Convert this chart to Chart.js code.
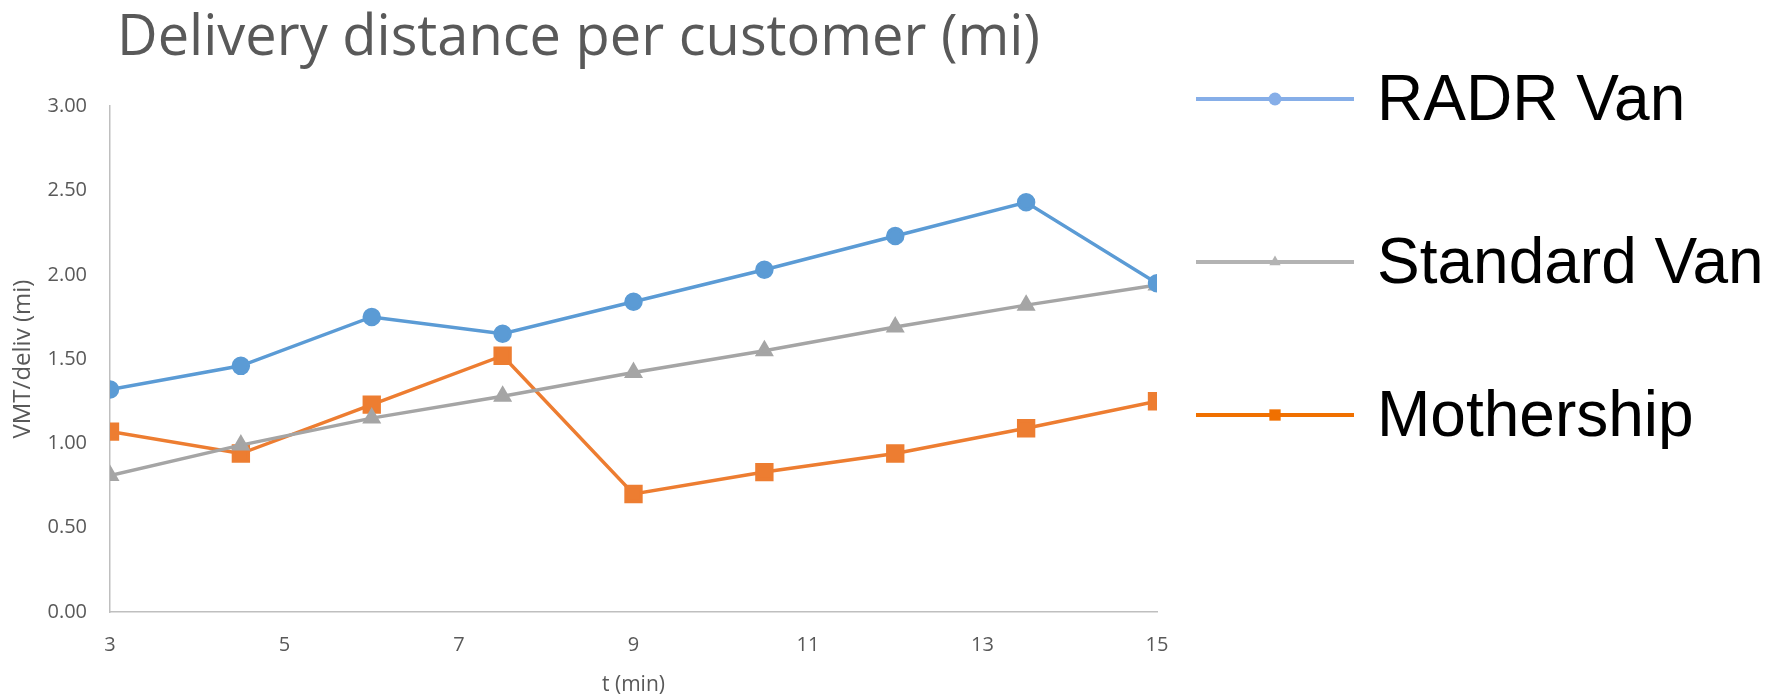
<!DOCTYPE html>
<html>
<head>
<meta charset="utf-8">
<script src="https://cdn.jsdelivr.net/npm/chart.js@4/dist/chart.umd.min.js"></script>
<style>
  html, body { margin: 0; padding: 0; background: #fff; }
  #wrap { width: 1781px; height: 696px; }
</style>
</head>
<body>
<div id="wrap"><canvas id="chart" width="1781" height="696"></canvas></div>
<script>
const tMinutes = [3, 4.5, 6, 7.5, 9, 10.5, 12, 13.5, 15];
const radrVan = [1.32, 1.46, 1.75, 1.65, 1.84, 2.03, 2.23, 2.43, 1.95];
const standardVan = [0.81, 0.99, 1.15, 1.28, 1.42, 1.55, 1.69, 1.82, 1.94];
const mothership = [1.07, 0.94, 1.23, 1.52, 0.70, 0.83, 0.94, 1.09, 1.25];
const seriesNames = ["RADR Van", "Standard Van", "Mothership"];

const toPoints = vals => vals.map((v, i) => ({ x: tMinutes[i], y: v }));

// legend is drawn by hand on the right, with its own (lighter) colours
const legendColors = ["#86aee8", "#b3b3b3", "#f07000"];
const legendRows = [99, 262, 415];

const sideLegend = {
  id: "sideLegend",
  afterDraw(chart) {
    const ctx = chart.ctx;
    ctx.save();
    chart.data.datasets.forEach((ds, i) => {
      const y = legendRows[i];
      ctx.strokeStyle = legendColors[i];
      ctx.fillStyle = legendColors[i];
      ctx.lineWidth = 4;
      ctx.beginPath();
      ctx.moveTo(1196, y);
      ctx.lineTo(1354, y);
      ctx.stroke();
      Chart.helpers.drawPoint(ctx, {
        pointStyle: ds.pointStyle,
        radius: ds.pointStyle === "rect" ? 8 : 6.5,
        rotation: 0,
        borderWidth: 0
      }, 1275, y);
      ctx.fillStyle = "#000";
      ctx.font = '64px "Liberation Sans", Arial, sans-serif';
      ctx.textBaseline = "middle";
      ctx.textAlign = "left";
      ctx.fillText(ds.label, 1377, y + 3);
    });
    ctx.restore();
  }
};

const grayText = "#595959";
const axisLine = "#bfbfbf";

new Chart(document.getElementById("chart"), {
  type: "line",
  data: {
    datasets: [
      {
        label: seriesNames[0],
        data: toPoints(radrVan),
        borderColor: "#5b9bd5",
        backgroundColor: "#5b9bd5",
        pointStyle: "circle",
        pointRadius: 7.5,
        borderWidth: 3.5
      },
      {
        label: seriesNames[1],
        data: toPoints(standardVan),
        borderColor: "#a5a5a5",
        backgroundColor: "#a5a5a5",
        pointStyle: "triangle",
        pointRadius: 7.5,
        borderWidth: 3.5
      },
      {
        label: seriesNames[2],
        data: toPoints(mothership),
        borderColor: "#ed7d31",
        backgroundColor: "#ed7d31",
        pointStyle: "rect",
        pointRadius: 10.5,
        borderWidth: 3.5
      }
    ]
  },
  options: {
    responsive: false,
    animation: false,
    events: [],
    layout: { padding: { left: 0, right: 624, top: 0, bottom: 0 } },
    elements: { point: { borderWidth: 0 }, line: { tension: 0 } },
    plugins: {
      legend: { display: false },
      tooltip: { enabled: false },
      title: {
        display: true,
        text: "Delivery distance per customer (mi)",
        color: grayText,
        font: { family: "'Open Sans', sans-serif", size: 56, weight: "normal", lineHeight: 1.2 },
        padding: { top: 5, bottom: 34 }
      }
    },
    scales: {
      x: {
        type: "linear",
        min: 3,
        max: 15,
        afterFit: s => { s.height = 84; },
        ticks: {
          stepSize: 2,
          padding: 21,
          color: grayText,
          font: { family: "'Open Sans', sans-serif", size: 20 }
        },
        grid: { display: false, drawTicks: false },
        border: { display: true, color: axisLine, width: 1.5 },
        title: {
          display: true,
          text: "t (min)",
          color: grayText,
          font: { family: "'Open Sans', sans-serif", size: 21, lineHeight: 1.0 },
          padding: { top: 0, bottom: 0 }
        }
      },
      y: {
        min: 0,
        max: 3,
        afterFit: s => { s.width = 110; },
        ticks: {
          stepSize: 0.5,
          padding: 23,
          color: grayText,
          font: { family: "'Open Sans', sans-serif", size: 20 },
          callback: v => v.toFixed(2)
        },
        grid: { display: false, drawTicks: false },
        border: { display: true, color: axisLine, width: 1.5 },
        title: {
          display: true,
          text: "VMT/deliv (mi)",
          color: grayText,
          font: { family: "'Open Sans', sans-serif", size: 24 },
          padding: { top: 9, bottom: 0 }
        }
      }
    }
  },
  plugins: [sideLegend]
});
</script>
</body>
</html>
